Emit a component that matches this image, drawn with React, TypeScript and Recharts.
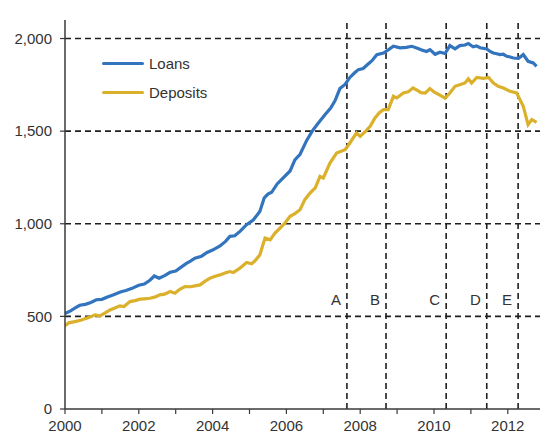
import { Legend, Line, LineChart, ReferenceLine, XAxis, YAxis } from 'recharts'

const BLUE = '#3274BE'
const GOLD = '#DBB12B'
const INK = '#333333'
const FONT = '"Liberation Sans", Arial, sans-serif'

// Loans, time in decimal years
const loanT = [
  2000.0, 2000.15, 2000.3, 2000.4, 2000.55, 2000.7, 2000.85, 2001.0, 2001.15, 2001.3, 2001.5, 2001.65, 2001.8,
  2002.0, 2002.15, 2002.3, 2002.42, 2002.55, 2002.7, 2002.85, 2003.0, 2003.12, 2003.28, 2003.4, 2003.52, 2003.7,
  2003.85, 2004.0, 2004.2, 2004.35, 2004.47, 2004.6, 2004.75, 2004.92, 2005.1, 2005.28, 2005.4, 2005.5, 2005.6,
  2005.75, 2005.9, 2006.1, 2006.23, 2006.37, 2006.55, 2006.7, 2006.85, 2007.05, 2007.2, 2007.32, 2007.45, 2007.59,
  2007.72, 2007.85, 2007.95, 2008.08, 2008.2, 2008.32, 2008.45, 2008.63, 2008.77, 2008.9, 2009.08, 2009.25, 2009.4,
  2009.55, 2009.7, 2009.8, 2009.89, 2010.03, 2010.16, 2010.3, 2010.43, 2010.57, 2010.7, 2010.84, 2010.93, 2011.06,
  2011.15, 2011.25, 2011.43, 2011.52, 2011.61, 2011.7, 2011.79, 2011.88, 2011.97, 2012.07, 2012.15, 2012.29,
  2012.42, 2012.55, 2012.69, 2012.78,
]
const loanV = [
  515, 530, 548, 560, 565, 575, 590, 592, 605, 615, 632, 640, 650,
  668, 675, 695, 718, 706, 720, 738, 745, 762, 785, 798, 814, 825,
  845, 858, 880, 905, 932, 935, 960, 995, 1020, 1066, 1140, 1160, 1170,
  1215, 1245, 1285, 1345, 1375, 1450, 1500, 1540, 1590, 1625, 1665, 1730, 1752,
  1790, 1815, 1832, 1838, 1860, 1880, 1913, 1922, 1940, 1958, 1950, 1952, 1958,
  1948, 1936, 1930, 1940, 1915, 1926, 1919, 1962, 1944, 1962, 1965, 1973, 1955,
  1960, 1950, 1944, 1930, 1922, 1918, 1913, 1915, 1904, 1900, 1895, 1893,
  1913, 1877, 1868, 1850,
]

// Deposits
const depT = [
  2000.0, 2000.1, 2000.27, 2000.45, 2000.55, 2000.68, 2000.81, 2000.95, 2001.1, 2001.22, 2001.35, 2001.49, 2001.6,
  2001.76, 2001.9, 2002.03, 2002.15, 2002.3, 2002.45, 2002.57, 2002.7, 2002.85, 2002.98, 2003.1, 2003.25, 2003.4,
  2003.52, 2003.66, 2003.8, 2003.93, 2004.05, 2004.2, 2004.35, 2004.47, 2004.56, 2004.74, 2004.92, 2005.06, 2005.15,
  2005.28, 2005.42, 2005.56, 2005.69, 2005.83, 2005.96, 2006.1, 2006.23, 2006.37, 2006.5, 2006.64, 2006.78, 2006.91,
  2007.0, 2007.18, 2007.36, 2007.59, 2007.72, 2007.9, 2008.0, 2008.15, 2008.27, 2008.4, 2008.52, 2008.63, 2008.76,
  2008.9, 2008.99, 2009.17, 2009.3, 2009.43, 2009.55, 2009.65, 2009.76, 2009.89, 2010.0, 2010.16, 2010.3, 2010.43,
  2010.57, 2010.7, 2010.84, 2010.93, 2011.02, 2011.16, 2011.34, 2011.48, 2011.61, 2011.74, 2011.88, 2012.06, 2012.24,
  2012.33, 2012.42, 2012.55, 2012.65, 2012.78,
]
const depV = [
  450, 465, 472, 480, 488, 496, 508, 503, 520, 535, 545, 557, 553,
  580, 585, 593, 595, 598, 605, 616, 620, 634, 625, 645, 661, 660,
  665, 670, 690, 706, 715, 724, 735, 742, 737, 760, 791, 784, 800,
  832, 923, 913, 950, 977, 1004, 1040, 1055, 1076, 1130, 1166, 1193, 1256,
  1247, 1328, 1382, 1400, 1436, 1490, 1472, 1500, 1526, 1571, 1600, 1616, 1616,
  1688, 1679, 1706, 1712, 1733, 1720, 1708, 1705, 1730, 1712, 1695, 1678, 1706,
  1742, 1751, 1760, 1782, 1760, 1790, 1785, 1790, 1760, 1742, 1733, 1715, 1706,
  1670, 1634, 1535, 1562, 1547,
]

const yearTicks = [2000, 2001, 2002, 2003, 2004, 2005, 2006, 2007, 2008, 2009, 2010, 2011, 2012]
const valueTicks = [0, 500, 1000, 1500, 2000]
const gridValues = [500, 1000, 1500, 2000]

// event markers
const eventX = [2007.64, 2008.7, 2010.33, 2011.43, 2012.28]
const eventLabels = ['A', 'B', 'C', 'D', 'E']
const eventLabelLevel = 590

const Y_MAX = 2100

const loans = loanT.map((t, i) => ({ t, v: loanV[i] }))
const deposits = depT.map((t, i) => ({ t, v: depV[i] }))

const seriesNames = ['Loans', 'Deposits']
const seriesColors = [BLUE, GOLD]

const DASH = { stroke: '#1f1f1f', strokeWidth: 1.6, strokeDasharray: '6 4' }

function LegendBox() {
  return (
    <div style={{ fontFamily: FONT, fontSize: 15, color: INK }}>
      {seriesNames.map((name, i) => (
        <div key={name} style={{ display: 'flex', alignItems: 'center', height: 29 }}>
          <span
            style={{ display: 'inline-block', width: 42, height: 3, borderRadius: 2, background: seriesColors[i], marginRight: 5 }}
          />
          <span>{name}</span>
        </div>
      ))}
    </div>
  )
}

export default function App() {
  return (
    <div style={{ position: 'absolute', left: 0, top: 0, width: 540, height: 434, background: '#fff' }}>
      <LineChart width={540} height={434} margin={{ top: 20, right: 0, left: 0, bottom: 0 }}>
        <XAxis
          type="number"
          dataKey="t"
          domain={[2000, 2012.873]}
          allowDataOverflow
          ticks={yearTicks}
          tickFormatter={(v: number) => (v % 2 === 0 ? String(v) : '')}
          tick={{ fontSize: 15, fill: INK, fontFamily: FONT }}
          tickSize={5}
          tickMargin={6}
          height={25}
          stroke="#3a3a3a"
          axisLine={{ stroke: '#3a3a3a', strokeWidth: 1.5 }}
          tickLine={{ stroke: '#3a3a3a', strokeWidth: 1.2 }}
        />
        <YAxis
          type="number"
          domain={[0, Y_MAX]}
          ticks={valueTicks}
          tickFormatter={(v: number) => v.toLocaleString('en-US')}
          tick={{ fontSize: 15, fill: INK, fontFamily: FONT }}
          width={65}
          tickSize={5}
          tickMargin={8}
          axisLine={{ stroke: '#3a3a3a', strokeWidth: 1.5 }}
          tickLine={{ stroke: '#3a3a3a', strokeWidth: 1.2 }}
        />
        {gridValues.map((g) => (
          <ReferenceLine key={g} y={g} {...DASH} />
        ))}
        {eventX.map((x, i) => (
          <ReferenceLine
            key={x}
            x={x}
            {...DASH}
            label={(p: any) => {
              const vb = p.viewBox
              const y = vb.y + vb.height * (1 - eventLabelLevel / Y_MAX)
              return (
                <text
                  x={vb.x - 6}
                  y={y}
                  textAnchor="end"
                  dominantBaseline="central"
                  fontSize={15}
                  fontFamily={FONT}
                  fill={INK}
                >
                  {eventLabels[i]}
                </text>
              )
            }}
          />
        ))}
        <Line
          data={deposits}
          dataKey="v"
          name="Deposits"
          stroke={GOLD}
          strokeWidth={3.2}
          dot={false}
          type="linear"
          isAnimationActive={false}
        />
        <Line
          data={loans}
          dataKey="v"
          name="Loans"
          stroke={BLUE}
          strokeWidth={3.2}
          dot={false}
          type="linear"
          isAnimationActive={false}
        />
        <Legend
          layout="vertical"
          align="center"
          verticalAlign="middle"
          content={() => <LegendBox />}
          wrapperStyle={{ left: 102, top: 49, width: 'auto', height: 'auto' }}
        />
      </LineChart>
    </div>
  )
}
